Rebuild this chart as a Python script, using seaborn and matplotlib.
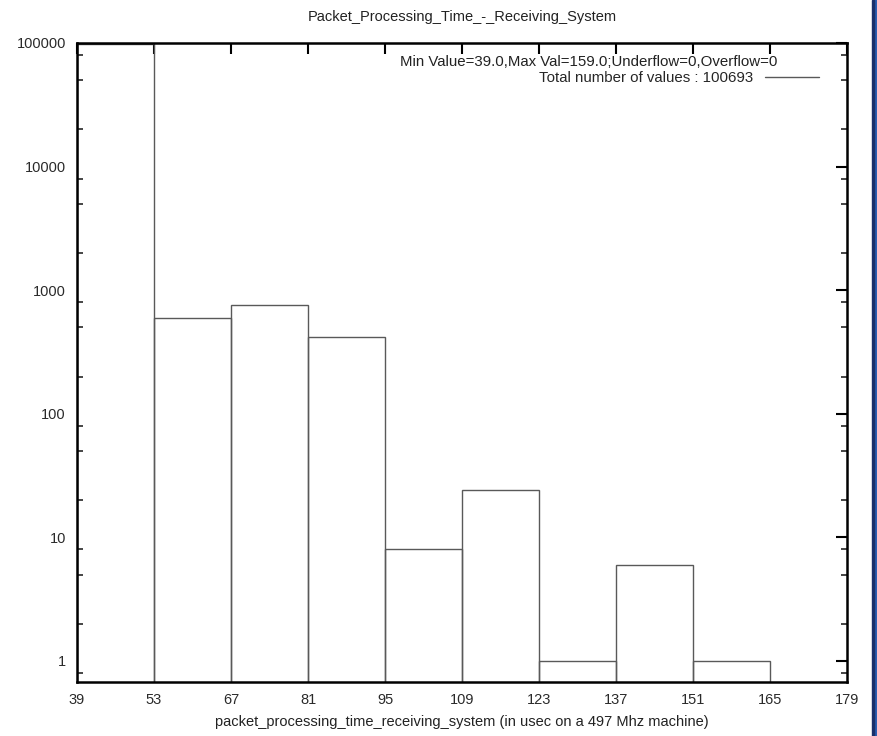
import numpy as np
import pandas as pd
import seaborn as sns
import matplotlib.pyplot as plt
from matplotlib.lines import Line2D
from matplotlib.patches import Rectangle
from matplotlib.ticker import FixedLocator, LogLocator, NullFormatter

# histogram bins (usec) and counts
bin_edges = [39, 53, 67, 81, 95, 109, 123, 137, 151, 165, 179]
counts = [98861, 597, 764, 415, 8, 24, 1, 6, 1, 0]
x_ticks = [39, 53, 67, 81, 95, 109, 123, 137, 151, 165, 179]
y_ticks = [1, 10, 100, 1000, 10000, 100000]
y_labels = ["1", "10", "100", "1000", "10000", "100000"]

df = pd.DataFrame({
    "time": [(a + b) / 2 for a, b in zip(bin_edges[:-1], bin_edges[1:])],
    "count": counts,
})

sns.set_style("white")
plt.rcParams["font.family"] = ["Liberation Sans", "DejaVu Sans"]
plt.rcParams["font.size"] = 10.5

fig = plt.figure(figsize=(8.77, 7.36), dpi=100)
ax = fig.add_axes([0.0878, 0.0734, 0.9658 - 0.0878, 0.9416 - 0.0734])

sns.histplot(data=df, x="time", weights="count", bins=bin_edges, fill=False,
             color="0.35", linewidth=1.0, ax=ax)

ax.set_yscale("log")
ax.set_xlim(39, 179)
ax.set_ylim(0.676, 100000)

ax.xaxis.set_major_locator(FixedLocator(x_ticks))
ax.set_xticklabels([str(t) for t in x_ticks])
ax.yaxis.set_major_locator(FixedLocator(y_ticks))
ax.set_yticklabels(y_labels)
ax.yaxis.set_minor_locator(LogLocator(base=10, subs=(2.0, 5.0, 8.0)))
ax.yaxis.set_minor_formatter(NullFormatter())
ax.xaxis.set_minor_locator(FixedLocator([]))

ax.tick_params(which="major", direction="in", length=8, width=1.5,
               top=True, right=True, labelsize=10.5, colors="black", pad=8)
ax.tick_params(which="minor", direction="in", length=4, width=1.2,
               left=True, right=True)
ax.tick_params(axis="both", labelcolor="#2a2a2a")
for s in ax.spines.values():
    s.set_linewidth(1.8)
    s.set_color("black")

ax.set_title("Packet_Processing_Time_-_Receiving_System", fontsize=10.5,
             color="#222222", pad=16)
ax.set_xlabel("packet_processing_time_receiving_system (in usec on a 497 Mhz machine)",
              fontsize=10.5, color="#222222", labelpad=6)
ax.set_ylabel("")

ax.text(0.910, 0.971, "Min Value=39.0,Max Val=159.0;Underflow=0,Overflow=0",
        transform=ax.transAxes, ha="right", va="center", fontsize=10.8,
        color="#222222")
ax.legend(handles=[Line2D([], [], color="0.35", lw=1.0)],
          labels=["Total number of values : 100693"],
          loc="center right", bbox_to_anchor=(0.972, 0.945), frameon=False,
          markerfirst=False, handlelength=3.6, handletextpad=0.8,
          fontsize=10.8, borderaxespad=0)

# window border on the right edge of the screenshot
fig.patches.append(Rectangle((873 / 877, 0), 4 / 877, 1, transform=fig.transFigure,
                             color="#2a5db0", zorder=0))
fig.patches.append(Rectangle((872 / 877, 0), 1.5 / 877, 1, transform=fig.transFigure,
                             color="#1a2f6a", zorder=1))

fig.savefig("out.png", dpi=100)
